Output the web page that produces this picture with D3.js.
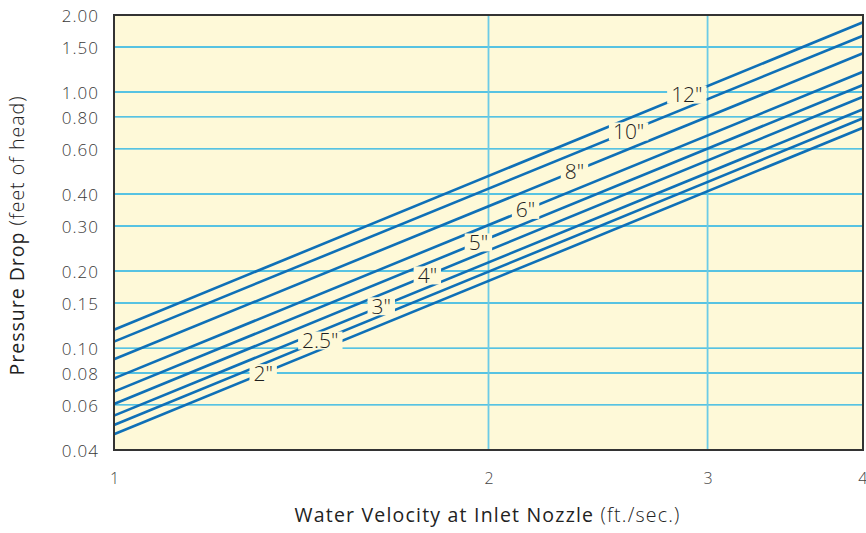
<!DOCTYPE html>
<html><head><meta charset="utf-8">
<script src="https://cdn.jsdelivr.net/npm/d3@7"></script>
<style>body{margin:0;background:#fff}svg{display:block}text{font-family:"Open Sans",Lato,sans-serif}</style>
</head><body><svg id="c" width="866" height="533"></svg>
<script>
// Data
const sizes = ['2"', '2.5"', '3"', '4"', '5"', '6"', '8"', '10"', '12"'];
const velocities = [1, 4];                   // line endpoints (ft/sec)
const dropAt1 = [0.0461, 0.0501, 0.0545, 0.0605, 0.0676, 0.0762, 0.0905, 0.106, 0.118];
const dropAt4 = [0.726, 0.790, 0.857, 0.959, 1.066, 1.20, 1.417, 1.66, 1.873];
const labelVelocity = [1.318, 1.465, 1.640, 1.786, 1.963, 2.142, 2.345, 2.592, 2.887];
const yTicks = [0.04, 0.06, 0.08, 0.10, 0.15, 0.20, 0.30, 0.40, 0.60, 0.80, 1.00, 1.50, 2.00];
const yGrid = [0.06, 0.08, 0.10, 0.15, 0.20, 0.30, 0.40, 0.60, 0.80, 1.00, 1.50];
const xTicks = [1, 2, 3, 4];
const xGrid = [2, 3];

const L = 114, R = 863, T = 15, B = 450;
const bg = "#fef9d8";
const svg = d3.select("#c");
const x = d3.scaleLog().domain([1, 4]).range([L, R]);
const y = d3.scaleLog().domain([0.04, 2]).range([B, T]);

svg.append("rect").attr("x", L).attr("y", T).attr("width", R - L).attr("height", B - T).attr("fill", bg);

// grid
svg.append("g").selectAll("line").data(yGrid).join("line")
  .attr("x1", L).attr("x2", R).attr("y1", d => y(d)).attr("y2", d => y(d))
  .attr("stroke", "#1fb0e6").attr("stroke-width", 1.4);
svg.append("g").selectAll("line").data(xGrid).join("line")
  .attr("x1", d => x(d)).attr("x2", d => x(d)).attr("y1", T).attr("y2", B)
  .attr("stroke", "#6ccbe6").attr("stroke-width", 1.8);

// lines
const series = sizes.map((s, i) => ({ size: s, pts: [[velocities[0], dropAt1[i]], [velocities[1], dropAt4[i]]], lv: labelVelocity[i], i }));
const line = d3.line().x(d => x(d[0])).y(d => y(d[1]));
svg.append("g").selectAll("path").data(series).join("path")
  .attr("d", d => line(d.pts)).attr("fill", "none")
  .attr("stroke", "#0f70b7").attr("stroke-width", 2.6);

// labels with background knock-out
function valAt(d, v) {
  const [a, b] = d.pts;
  const t = Math.log(v / a[0]) / Math.log(b[0] / a[0]);
  return Math.exp(Math.log(a[1]) + t * (Math.log(b[1]) - Math.log(a[1])));
}
const lab = svg.append("g");
series.forEach(d => {
  const cx = x(d.lv), cy = y(valAt(d, d.lv));
  const gg = lab.append("g");
  const r = gg.append("rect").attr("fill", bg);
  const t = gg.append("text").attr("x", cx).attr("y", cy).attr("dy", "0.36em")
    .attr("text-anchor", "middle").attr("font-size", 21).attr("font-weight", 300)
    .attr("fill", "#1e1e1e").text(d.size);
  const bb = t.node().getBBox();
  r.attr("x", bb.x - 4).attr("y", cy - 9).attr("width", bb.width + 8).attr("height", 18);
});

// frame
svg.append("rect").attr("x", L).attr("y", T).attr("width", R - L).attr("height", B - T)
  .attr("fill", "none").attr("stroke", "#333").attr("stroke-width", 2);

// axes
const ya = svg.append("g").attr("transform", `translate(${L},0)`)
  .call(d3.axisLeft(y).tickValues(yTicks).tickFormat(d3.format(".2f")).tickSize(0).tickPadding(15));
ya.select(".domain").remove();
ya.selectAll("text").attr("font-size", 17).attr("fill", "#3a3a3a").attr("letter-spacing", "1px")
  .attr("font-family", "'Open Sans', sans-serif").attr("font-weight", 300).attr("dy", "0.36em");

const xa = svg.append("g").attr("transform", `translate(0,${B})`)
  .call(d3.axisBottom(x).tickValues(xTicks).tickFormat(d3.format("d")).tickSize(0).tickPadding(23));
xa.select(".domain").remove();
xa.selectAll("text").attr("font-size", 16).attr("fill", "#444").attr("font-weight", 300)
  .attr("font-family", "'Open Sans', sans-serif");
xa.selectAll(".tick").filter(d => d === 4).select("text").attr("text-anchor", "end").attr("dx", 4);

// titles
const xt = svg.append("text").attr("x", 487.5).attr("y", 522).attr("text-anchor", "middle")
  .attr("font-size", 19.5).attr("letter-spacing", "1.2px").attr("fill", "#222");
xt.append("tspan").text("Water Velocity at Inlet Nozzle ");
xt.append("tspan").attr("font-weight", 300).text("(ft./sec.)");

const yt = svg.append("text").attr("transform", "translate(24,235.5) rotate(-90)").attr("text-anchor", "middle")
  .attr("font-size", 19.5).attr("letter-spacing", "1px").attr("fill", "#222");
yt.append("tspan").text("Pressure Drop ");
yt.append("tspan").attr("font-weight", 300).text("(feet of head)");
</script></body></html>
